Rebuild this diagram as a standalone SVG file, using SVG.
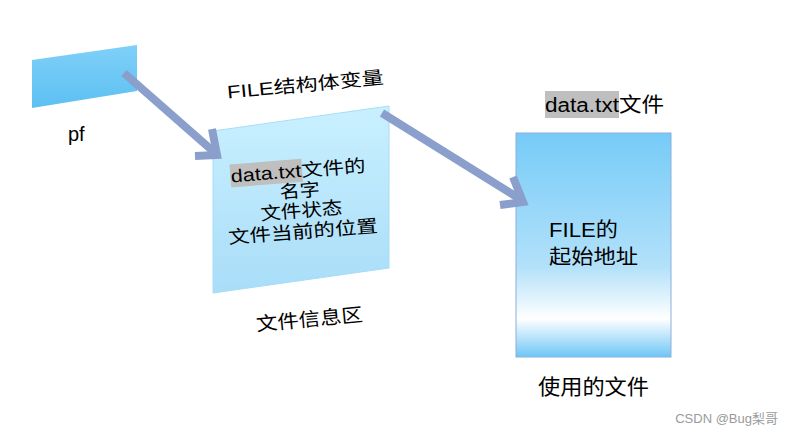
<svg xmlns="http://www.w3.org/2000/svg" width="793" height="434" viewBox="0 0 793 434">
<defs>
<linearGradient id="gPf" x1="0" y1="0" x2="0" y2="1">
<stop offset="0" stop-color="#7FD0F8"/><stop offset="1" stop-color="#5CC0F2"/>
</linearGradient>
<linearGradient id="gInfo" x1="0" y1="0" x2="0" y2="1">
<stop offset="0" stop-color="#C9F0FF"/><stop offset="1" stop-color="#A9DDF8"/>
</linearGradient>
<linearGradient id="gFile" x1="0" y1="0" x2="0" y2="1">
<stop offset="0" stop-color="#76CBF7"/><stop offset="0.6" stop-color="#B3E1FA"/><stop offset="0.83" stop-color="#FFFFFF"/><stop offset="1" stop-color="#6EC6F5"/>
</linearGradient>
<style>
.t{font-family:"Liberation Sans","Noto Sans CJK SC",sans-serif;fill:#000}
.arrow{fill:none;stroke:#8A9FCB;stroke-width:8;stroke-linecap:butt;stroke-linejoin:miter}
.hl{fill:#BFBFBF}
</style>
</defs>
<rect width="793" height="434" fill="#fff"/>
<g id="pf">
<polygon points="32,60 137,45 137,91 32,108" fill="url(#gPf)"/>
<text class="t" x="68" y="141" font-size="20">pf</text>
</g>
<g id="info">
<text class="t" x="306" y="91" font-size="18" text-anchor="middle" textLength="157" lengthAdjust="spacingAndGlyphs" transform="rotate(-5.5 306 91)">FILE结构体变量</text>
<polygon points="213,131 389,106 389,268 213,293" fill="url(#gInfo)" stroke="#A6DDF7" stroke-width="1"/>
<g transform="rotate(-4.5 301 207)">
<rect class="hl" x="233" y="159" width="72" height="23"/>
<text class="t" font-size="18" text-anchor="middle" lengthAdjust="spacingAndGlyphs">
<tspan x="301" y="177" textLength="135" lengthAdjust="spacingAndGlyphs">data.txt文件的</tspan>
</text>
<text class="t" x="301" y="197" font-size="18" text-anchor="middle" textLength="40" lengthAdjust="spacingAndGlyphs">名字</text>
<text class="t" x="301" y="217" font-size="18" text-anchor="middle" textLength="82" lengthAdjust="spacingAndGlyphs">文件状态</text>
<text class="t" x="301" y="238" font-size="18" text-anchor="middle" textLength="150" lengthAdjust="spacingAndGlyphs">文件当前的位置</text>
</g>
<text class="t" x="310" y="326" font-size="19" text-anchor="middle" textLength="107" lengthAdjust="spacingAndGlyphs" transform="rotate(-5.4 310 326)">文件信息区</text>
</g>
<g id="file">
<rect class="hl" x="545" y="91" width="74" height="27"/>
<text class="t" x="545" y="112" font-size="20" textLength="119" lengthAdjust="spacingAndGlyphs">data.txt文件</text>
<rect x="516" y="133" width="155" height="224" fill="url(#gFile)" stroke="#8CAEDC" stroke-width="1"/>
<text class="t" x="549" y="237" font-size="20" textLength="69" lengthAdjust="spacingAndGlyphs">FILE的</text>
<text class="t" x="549" y="264" font-size="20" textLength="89" lengthAdjust="spacingAndGlyphs">起始地址</text>
<text class="t" x="538" y="394" font-size="21" textLength="111" lengthAdjust="spacingAndGlyphs">使用的文件</text>
</g>
<g id="connectors">
<path class="arrow" d="M124,73 L214,152"/>
<path class="arrow" d="M212,129 L217,155 L195,156"/>
<path class="arrow" d="M382,113 L520,199"/>
<path class="arrow" d="M513,177 L523,202 L500,205"/>
</g>
<text x="778" y="423" font-size="13" fill="#9A9A9A" text-anchor="end" font-family="Liberation Sans,Noto Sans CJK SC,sans-serif">CSDN @Bug梨哥</text>
</svg>
